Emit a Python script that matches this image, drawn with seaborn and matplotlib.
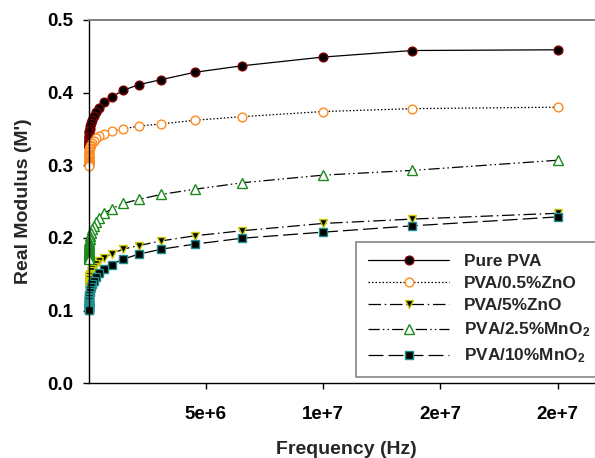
import numpy as np
import pandas as pd
import matplotlib
matplotlib.use("Agg")
import matplotlib.pyplot as plt
import seaborn as sns

# ---------------- data ----------------
freq = [2.0e7, 1.38e7, 1.0e7, 6.55e6, 4.52e6, 3.1e6, 2.13e6, 1.46e6, 9.8e5, 6.7e5,
        4.6e5, 3.1e5, 2.1e5, 1.45e5, 1.0e5, 6.8e4, 4.7e4, 3.2e4, 2.2e4, 1.5e4,
        1.0e4, 7.0e3, 4.8e3, 3.3e3, 2.3e3, 1.6e3, 1.1e3, 750, 520, 360,
        250, 170, 120, 80]

pure_pva = [0.459, 0.458, 0.449, 0.437, 0.428, 0.418, 0.411, 0.403, 0.394, 0.387,
            0.379, 0.373, 0.368, 0.363, 0.358, 0.354, 0.350, 0.347, 0.344, 0.341,
            0.339, 0.337, 0.335, 0.333, 0.332, 0.331, 0.330, 0.329, 0.328, 0.327,
            0.326, 0.326, 0.325, 0.325]
zno_05 = [0.380, 0.378, 0.374, 0.367, 0.362, 0.357, 0.354, 0.350, 0.347, 0.343,
          0.340, 0.337, 0.334, 0.331, 0.328, 0.326, 0.324, 0.322, 0.320, 0.318,
          0.316, 0.314, 0.313, 0.311, 0.310, 0.308, 0.307, 0.306, 0.305, 0.304,
          0.303, 0.302, 0.300, 0.299]
zno_5 = [0.234, 0.226, 0.220, 0.210, 0.203, 0.196, 0.1895, 0.1846, 0.178, 0.173,
         0.168, 0.164, 0.160, 0.157, 0.154, 0.151, 0.149, 0.147, 0.145, 0.143,
         0.141, 0.140, 0.138, 0.137, 0.136, 0.135, 0.134, 0.133, 0.132, 0.131,
         0.130, 0.129, 0.129, 0.128]
mno2_25 = [0.307, 0.293, 0.2865, 0.276, 0.267, 0.260, 0.253, 0.2475, 0.240, 0.234,
           0.228, 0.222, 0.217, 0.212, 0.207, 0.203, 0.199, 0.196, 0.193, 0.190,
           0.188, 0.186, 0.184, 0.182, 0.181, 0.179, 0.178, 0.177, 0.176, 0.175,
           0.174, 0.173, 0.172, 0.171]
mno2_10 = [0.229, 0.2167, 0.208, 0.1997, 0.1915, 0.1846, 0.1777, 0.1708, 0.1635, 0.1575,
           0.1515, 0.146, 0.141, 0.136, 0.132, 0.128, 0.125, 0.122, 0.119, 0.117,
           0.115, 0.113, 0.111, 0.110, 0.109, 0.108, 0.107, 0.106, 0.105, 0.104,
           0.103, 0.102, 0.1015, 0.101]

series_names = ["Pure PVA", "PVA/0.5%ZnO", "PVA/5%ZnO",
                r"PVA/2.5%MnO$_2$", r"PVA/10%MnO$_2$"]
x_ticks = [5e6, 1e7, 1.5e7, 2e7]
x_tick_labels = ["5e+6", "1e+7", "2e+7", "2e+7"]
y_ticks = [0.0, 0.1, 0.2, 0.3, 0.4, 0.5]
y_tick_labels = ["0.0", "0.1", "0.2", "0.3", "0.4", "0.5"]

# ---------------- styling ----------------
sns.set_style("ticks")
plt.rcParams["font.family"] = ["Liberation Sans", "DejaVu Sans"]
plt.rcParams["font.weight"] = "bold"
plt.rcParams["mathtext.fontset"] = "custom"
plt.rcParams["mathtext.rm"] = "Liberation Sans:bold"
plt.rcParams["mathtext.it"] = "Liberation Sans:bold"
plt.rcParams["mathtext.bf"] = "Liberation Sans:bold"
plt.rcParams["mathtext.default"] = "rm"

styles = [
    dict(marker="o", mfc="black", mec="#7a0000", ls="-"),
    dict(marker="o", mfc="white", mec="#ff8a1e", ls=(0, (1.2, 1.6))),
    dict(marker="v", mfc="black", mec="#cccc00", ls=(0, (10, 3, 1.2, 3))),
    dict(marker="^", mfc="white", mec="#1a8a1a", ls=(0, (9, 2.5, 1.2, 2.5, 1.2, 2.5))),
    dict(marker="s", mfc="black", mec="#1f8f8f", ls=(0, (12, 4))),
]
msizes = [6.3, 6.3, 6.3, 6.8, 5.8]

all_vals = [pure_pva, zno_05, zno_5, mno2_25, mno2_10]

fig = plt.figure(figsize=(5.95, 4.58), dpi=100)
ax_left = 88.7 / 595
ax_bottom = (458 - 383.3) / 458
ax_h = 363.3 / 458
xmax = 2.2e7
ax_w = (22 * 23.44) / 595
ax = fig.add_axes([ax_left, ax_bottom, ax_w, ax_h])

for name, vals, st, ms in zip(series_names, all_vals, styles, msizes):
    df = pd.DataFrame({"freq": freq, "val": vals})
    sns.lineplot(data=df, x="freq", y="val", ax=ax, sort=False, estimator=None,
                 errorbar=None, color="black", linewidth=0.9,
                 linestyle=st["ls"], marker=st["marker"],
                 markerfacecolor=st["mfc"], markeredgecolor=st["mec"],
                 markeredgewidth=1.0, markersize=ms, label=name, clip_on=False)

ax.set_xlim(0, xmax)
ax.set_ylim(0, 0.5)
ax.set_xticks(x_ticks)
ax.set_xticklabels(x_tick_labels)
ax.set_yticks(y_ticks)
ax.set_yticklabels(y_tick_labels)

for lab in ax.get_xticklabels() + ax.get_yticklabels():
    lab.set_fontweight("bold")
    lab.set_fontsize(13.5)

ax.tick_params(axis="x", direction="out", length=4, width=1, pad=12, colors="black")
ax.tick_params(axis="y", direction="out", length=4, width=1, pad=7, colors="black")

ax.set_xlabel("Frequency (Hz)", fontsize=14, fontweight="bold", labelpad=13)
ax.set_ylabel("Real Modulus (M')", fontsize=14, fontweight="bold", labelpad=11)

ax.spines["right"].set_visible(False)
ax.spines["top"].set_color("#808080")
ax.spines["top"].set_linewidth(1.4)
ax.spines["left"].set_linewidth(1.0)
ax.spines["bottom"].set_linewidth(1.0)
ax.spines["left"].set_color("black")
ax.spines["bottom"].set_color("black")

leg_x0 = (356 - 88.7) / (22 * 23.44)
leg_y0 = 6 / 363.3
leg = ax.legend(loc="lower left", bbox_to_anchor=(leg_x0, leg_y0, 0.5, 0.3),
                mode="expand", borderaxespad=0, fontsize=12.4,
                handlelength=4.7, handletextpad=0.85, labelspacing=0.42,
                borderpad=0.7, frameon=True, fancybox=False)
leg.get_frame().set_edgecolor("#666666")
leg.get_frame().set_linewidth(1.2)
for t in leg.get_texts():
    t.set_fontweight("bold")

fig.savefig("out.png", dpi=100)
